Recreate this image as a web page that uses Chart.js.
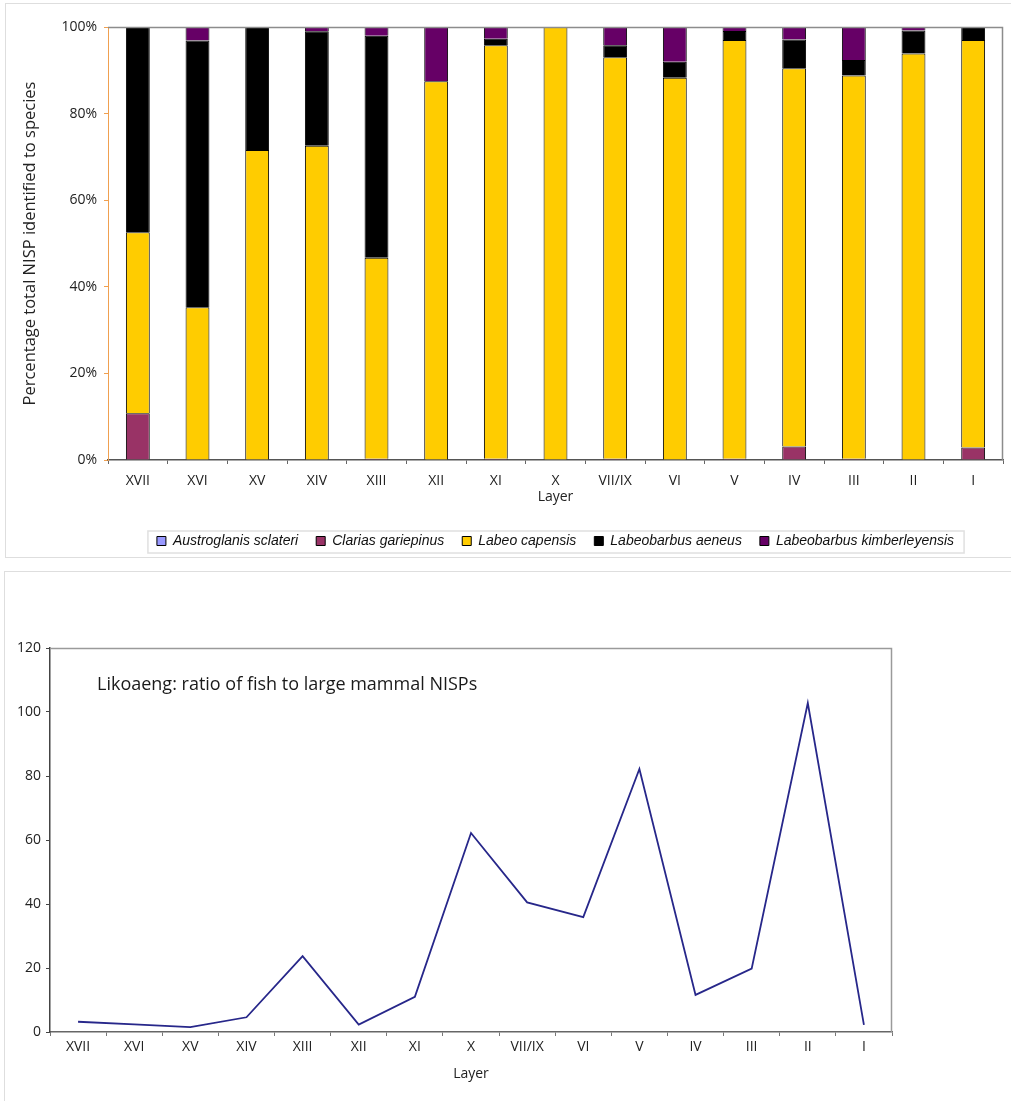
<!DOCTYPE html>
<html>
<head>
<meta charset="utf-8">
<script src="https://cdn.jsdelivr.net/npm/chart.js@4.4.1/dist/chart.umd.min.js"></script>
<style>
  html, body { margin: 0; padding: 0; background: #fff; width: 1011px; height: 1101px; overflow: hidden; }
  .panel { position: absolute; border: 1px solid #dedede; }
  #top-panel { left: 5px; top: 3px; width: 1010px; height: 553px; }
  #bottom-panel { left: 4px; top: 571px; width: 1010px; height: 540px; }
  #top-chart { position: absolute; left: 0; top: 0; }
  #bottom-chart { position: absolute; left: 0; top: 600px; }
</style>
</head>
<body>
<div class="panel" id="top-panel"></div>
<div class="panel" id="bottom-panel"></div>
<canvas id="top-chart" width="1011" height="560"></canvas>
<canvas id="bottom-chart" width="1011" height="501"></canvas>
<script>
  "use strict";

  // layers, oldest (left) to youngest (right)
  const layers = ["XVII", "XVI", "XV", "XIV", "XIII", "XII", "XI", "X", "VII/IX", "VI", "V", "IV", "III", "II", "I"];

  // % of total NISP identified to species, per taxon
  const austroglanis = [0, 0, 0, 0, 0, 0, 0, 0, 0, 0, 0, 0, 0, 0, 0];
  const clarias = [10.8, 0, 0, 0, 0.3, 0, 0.3, 0, 0.3, 0, 0.3, 3.1, 0.3, 0, 2.9];
  const labeo = [41.8, 35.3, 71.6, 72.6, 46.4, 87.5, 95.5, 100, 92.7, 88.3, 96.7, 87.4, 88.5, 93.9, 94.1];
  const aeneus = [47.4, 61.6, 28.4, 26.4, 51.3, 0, 1.5, 0, 2.8, 3.7, 2.1, 6.6, 3.6, 5.3, 3.0];
  const kimberleyensis = [0, 3.1, 0, 1.0, 2.0, 12.5, 2.7, 0, 4.2, 8.0, 0.9, 2.9, 7.6, 0.8, 0];

  // fish : large mammal NISP ratio
  const fishRatio = [3.2, 2.4, 1.5, 4.6, 23.7, 2.3, 11.0, 62.2, 40.5, 35.9, 82.2, 11.6, 19.8, 102.8, 2.2];

  const pctTicks = [0, 20, 40, 60, 80, 100];
  const ratioTicks = [0, 20, 40, 60, 80, 100, 120];

  const tickFont = { family: "'Open Sans', sans-serif", size: 14 };
  const legendFont = { family: "'Liberation Sans', Arial, sans-serif", size: 14, style: "italic" };

  // grey line along the top and right of the plot area
  const plotFrame = {
    id: "plotFrame",
    afterDatasetsDraw(chart, args, opts) {
      let a = chart.chartArea;
      let ctx = chart.ctx;
      ctx.save();
      ctx.strokeStyle = opts.color || "#999";
      ctx.lineWidth = 1.5;
      ctx.beginPath();
      ctx.moveTo(a.left, a.top + 0.5);
      ctx.lineTo(a.right - 0.5, a.top + 0.5);
      ctx.lineTo(a.right - 0.5, a.bottom);
      ctx.stroke();
      ctx.restore();
    }
  };

  // centre the legend under the plot area rather than the whole canvas
  const legendShift = {
    id: "legendShift",
    afterUpdate(chart) {
      let legend = chart.legend;
      if (!legend || !legend.options.display) {
        return;
      }
      let a = chart.chartArea;
      let dx = (a.left + a.right) / 2 - (legend.left + legend.right) / 2;
      legend.left += dx;
      legend.right += dx;
    }
  };

  // faint box round the legend row
  const legendFrame = {
    id: "legendFrame",
    afterDraw(chart, args, opts) {
      let legend = chart.legend;
      if (!opts.display || !legend || !legend.lineWidths) {
        return;
      }
      let pad = legend.options.labels.padding;
      let rowWidth = legend.lineWidths[0];
      let start = (legend.left + pad + legend.right - rowWidth) / 2;
      let center = legend.top + pad + 7;
      let ctx = chart.ctx;
      ctx.save();
      ctx.strokeStyle = "#e0e0e0";
      ctx.lineWidth = 1.5;
      ctx.strokeRect(start - 9, center - 10, rowWidth + 1, 22);
      ctx.restore();
    }
  };

  // title drawn inside the plot area
  const innerTitle = {
    id: "innerTitle",
    afterDraw(chart, args, opts) {
      if (!opts.text) {
        return;
      }
      let ctx = chart.ctx;
      ctx.save();
      ctx.font = opts.font;
      ctx.fillStyle = opts.color;
      ctx.textBaseline = "alphabetic";
      ctx.fillText(opts.text, chart.chartArea.left + opts.x, chart.chartArea.top + opts.y);
      ctx.restore();
    }
  };

  function barSet(label, data, color) {
    return {
      label: label,
      data: data,
      backgroundColor: color,
      borderColor: "#000",
      borderWidth: 1,
      barPercentage: 0.4,
      categoryPercentage: 1
    };
  }

  function speciesChart() {
    let config = {
      type: "bar",
      data: {
        labels: layers,
        datasets: [
          barSet("Austroglanis sclateri", austroglanis, "#9999ff"),
          barSet("Clarias gariepinus", clarias, "#993366"),
          barSet("Labeo capensis", labeo, "#ffcc00"),
          barSet("Labeobarbus aeneus", aeneus, "#000000"),
          barSet("Labeobarbus kimberleyensis", kimberleyensis, "#660066")
        ]
      },
      plugins: [plotFrame, legendShift, legendFrame],
      options: {
        responsive: false,
        animation: false,
        layout: { padding: { top: 27, right: 8, left: 0, bottom: 2 } },
        plugins: {
          plotFrame: { color: "#8c8c8c" },
          legendFrame: { display: true },
          tooltip: { enabled: false },
          legend: {
            position: "bottom",
            labels: {
              boxWidth: 9,
              boxHeight: 9,
              padding: 18,
              color: "#111",
              font: legendFont
            }
          }
        },
        scales: {
          x: {
            stacked: true,
            afterFit: (scale) => { scale.height = 56; },
            grid: {
              offset: true,
              drawOnChartArea: false,
              tickLength: 4,
              color: "#666"
            },
            border: { color: "#555", width: 1.5 },
            ticks: { color: "#222", font: tickFont, padding: 9, maxRotation: 0 },
            title: {
              display: true,
              text: "Layer",
              color: "#222",
              font: tickFont,
              padding: { top: 0, bottom: 11 }
            }
          },
          y: {
            stacked: true,
            min: 0,
            max: 100,
            afterFit: (scale) => { scale.width = 108; },
            afterBuildTicks: (scale) => { scale.ticks = pctTicks.map(v => ({ value: v })); },
            grid: {
              drawOnChartArea: false,
              tickLength: 4,
              color: "#f0a050"
            },
            border: { color: "#f0a050", width: 1 },
            ticks: {
              color: "#222",
              font: tickFont,
              padding: 7,
              callback: (v) => v + "%"
            },
            title: {
              display: true,
              text: "Percentage total NISP identified to species",
              color: "#222",
              font: { family: "'Open Sans', sans-serif", size: 16.5 },
              padding: { top: 20, bottom: 0 }
            }
          }
        }
      }
    };
    return new Chart(document.getElementById("top-chart"), config);
  }

  function ratioChart() {
    let config = {
      type: "line",
      data: {
        labels: layers,
        datasets: [{
          label: "fish / large mammal",
          data: fishRatio,
          borderColor: "#27278a",
          borderWidth: 1.8,
          pointRadius: 0,
          tension: 0,
          fill: false
        }]
      },
      plugins: [plotFrame, innerTitle],
      options: {
        responsive: false,
        animation: false,
        layout: { padding: { top: 48, right: 119, left: 0, bottom: 0 } },
        plugins: {
          plotFrame: { color: "#9a9a9a" },
          innerTitle: {
            text: "Likoaeng: ratio of fish to large mammal NISPs",
            font: "18px 'Open Sans', sans-serif",
            color: "#1a1a1a",
            x: 47,
            y: 42
          },
          tooltip: { enabled: false },
          legend: { display: false }
        },
        scales: {
          x: {
            offset: true,
            afterFit: (scale) => { scale.height = 69; },
            grid: {
              offset: true,
              drawOnChartArea: false,
              tickLength: 4,
              color: "#777"
            },
            border: { color: "#666", width: 1.5 },
            ticks: { color: "#222", font: tickFont, padding: 3, maxRotation: 0 },
            title: {
              display: true,
              text: "Layer",
              color: "#222",
              font: tickFont,
              padding: { top: 0, bottom: 19 }
            }
          },
          y: {
            min: 0,
            max: 120,
            afterFit: (scale) => { scale.width = 50; },
            afterBuildTicks: (scale) => { scale.ticks = ratioTicks.map(v => ({ value: v })); },
            grid: {
              drawOnChartArea: false,
              tickLength: 4,
              color: "#444"
            },
            border: { color: "#444", width: 1.5 },
            ticks: { color: "#222", font: tickFont, padding: 5 }
          }
        }
      }
    };
    return new Chart(document.getElementById("bottom-chart"), config);
  }

  speciesChart();
  ratioChart();
</script>
</body>
</html>
